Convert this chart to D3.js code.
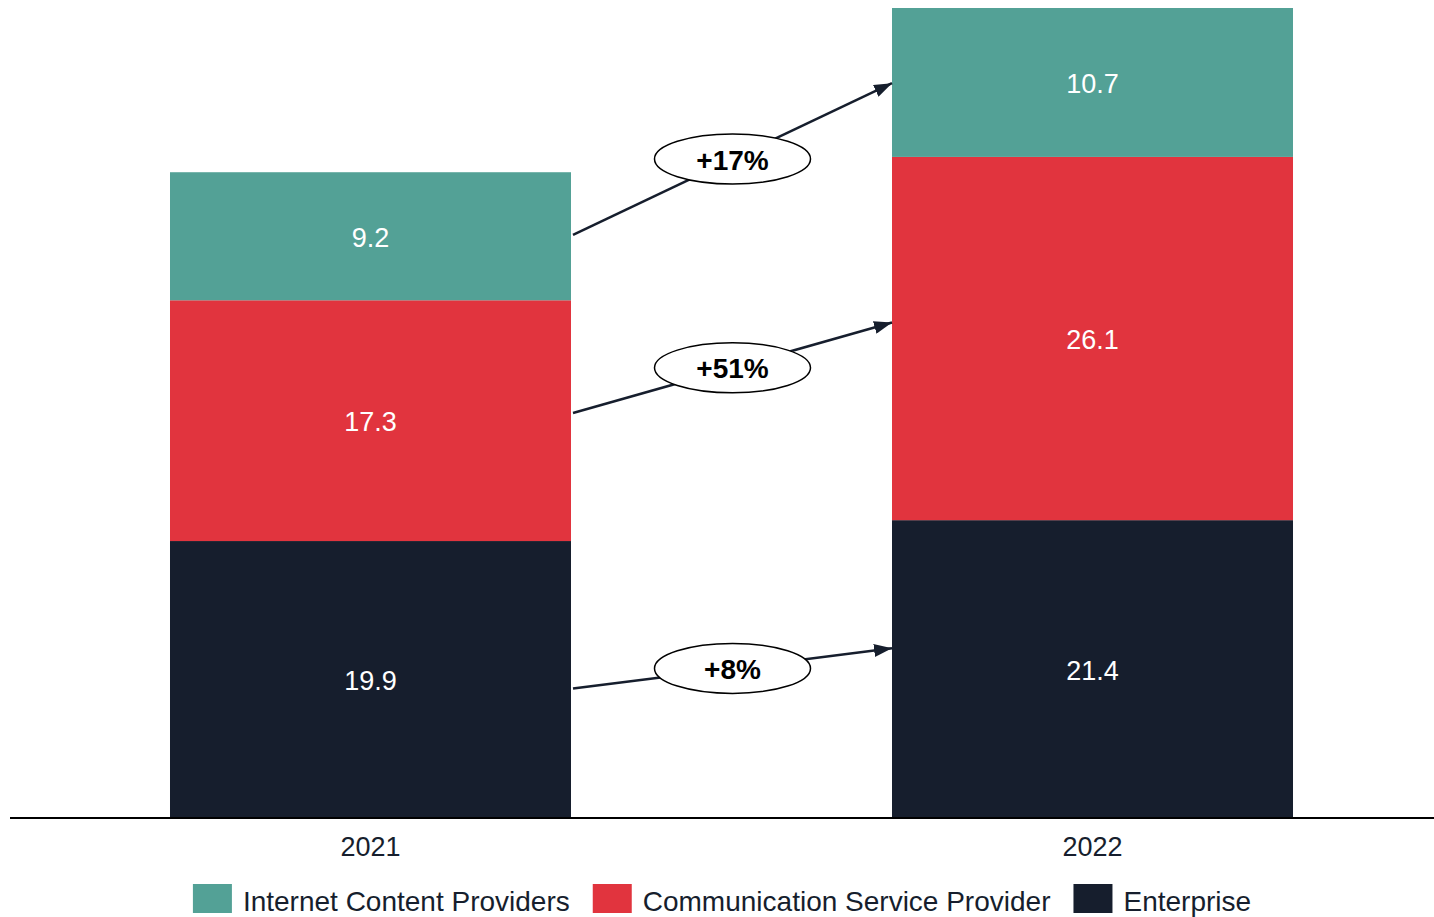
<!DOCTYPE html>
<html>
<head>
<meta charset="utf-8">
<script src="https://cdn.jsdelivr.net/npm/d3@7"></script>
<style>
  body { margin: 0; background: #fff; }
  svg { display: block; font-family: Arial, "Liberation Sans", sans-serif; }
</style>
</head>
<body>
<div id="chart"></div>
<script>
// data
const years = ['2021', '2022'];
const segments = ['Internet Content Providers', 'Communication Service Provider', 'Enterprise'];
const enterprise = [19.9, 21.4];
const csp = [17.3, 26.1];
const icp = [9.2, 10.7];
const segColors = ['#53a196', '#e1343e', '#161e2d'];

// growth arrows (value where arrow starts on 2021 bar, value where it ends on 2022 bar)
const growthLabels = ['+17%', '+51%', '+8%'];
const arrowFrom = [41.9, 29.1, 9.3];
const arrowTo = [52.8, 35.6, 12.2];

const width = 1434, height = 917;
const baseY = 818;

const svg = d3.select('#chart').append('svg')
  .attr('width', width)
  .attr('height', height);

// scales
const x = d3.scaleBand()
  .domain(years)
  .range([10, 1453])
  .paddingInner(0.4446)
  .paddingOuter(0.2216);

const y = d3.scaleLinear()
  .domain([0, 58.2])
  .range([baseY, 8]);

const color = d3.scaleOrdinal().domain(segments).range(segColors);

// stack rows
const rows = years.map((yr, i) => ({
  year: yr,
  'Enterprise': enterprise[i],
  'Communication Service Provider': csp[i],
  'Internet Content Providers': icp[i]
}));
const stack = d3.stack().keys(['Enterprise', 'Communication Service Provider', 'Internet Content Providers']);
const series = stack(rows);

const bars = svg.append('g').attr('id', 'bars');
series.forEach(s => {
  const g = bars.append('g').attr('fill', color(s.key));
  g.selectAll('rect')
    .data(s)
    .join('rect')
    .attr('x', d => x(d.data.year))
    .attr('width', x.bandwidth())
    .attr('y', d => y(d[1]))
    .attr('height', d => y(d[0]) - y(d[1]));
  g.selectAll('text')
    .data(s)
    .join('text')
    .attr('x', d => x(d.data.year) + x.bandwidth() / 2)
    .attr('y', d => (y(d[0]) + y(d[1])) / 2)
    .attr('dy', '0.4em')
    .attr('text-anchor', 'middle')
    .attr('fill', '#fff')
    .style('font-size', '27px')
    .text(d => (d[1] - d[0]).toFixed(1));
});

// baseline axis
const xAxis = svg.append('g').attr('transform', `translate(0,${baseY})`);
xAxis.append('line')
  .attr('x1', 10).attr('x2', width)
  .attr('y1', 0).attr('y2', 0)
  .attr('stroke', '#000')
  .attr('stroke-width', 2);
xAxis.selectAll('text')
  .data(years)
  .join('text')
  .attr('x', d => x(d) + x.bandwidth() / 2)
  .attr('y', 38)
  .attr('text-anchor', 'middle')
  .attr('fill', '#161e2d')
  .style('font-size', '27px')
  .text(d => d);

// arrow marker
svg.append('defs').append('marker')
  .attr('id', 'arrowHead')
  .attr('viewBox', '0 0 10 10')
  .attr('preserveAspectRatio', 'none')
  .attr('refX', 10).attr('refY', 5)
  .attr('markerUnits', 'userSpaceOnUse')
  .attr('orient', 'auto')
  .attr('markerWidth', 18).attr('markerHeight', 13)
  .append('path')
  .attr('d', 'M0,0 L10,5 L0,10 Z')
  .attr('fill', '#161e2d');

const x0 = x('2021') + x.bandwidth() + 2;
const x1 = x('2022');
const arrows = svg.append('g').attr('id', 'arrows');
growthLabels.forEach((lbl, i) => {
  const ya = y(arrowFrom[i]), yb = y(arrowTo[i]);
  arrows.append('line')
    .attr('x1', x0).attr('y1', ya)
    .attr('x2', x1).attr('y2', yb)
    .attr('stroke', '#161e2d')
    .attr('stroke-width', 2.5)
    .attr('marker-end', 'url(#arrowHead)');
  const cx = (x0 + x1) / 2, cy = (ya + yb) / 2;
  arrows.append('ellipse')
    .attr('cx', cx).attr('cy', cy)
    .attr('rx', 78).attr('ry', 25)
    .attr('fill', '#fff')
    .attr('stroke', '#000')
    .attr('stroke-width', 1.5);
  arrows.append('text')
    .attr('x', cx).attr('y', cy)
    .attr('dy', '0.38em')
    .attr('text-anchor', 'middle')
    .style('font-size', '28px')
    .style('font-weight', 'bold')
    .attr('fill', '#000')
    .text(lbl);
});

// legend
const legend = svg.append('g').attr('id', 'legend');
let lx = 0;
segments.forEach(seg => {
  const item = legend.append('g').attr('transform', `translate(${lx},0)`);
  item.append('rect')
    .attr('x', 0).attr('y', 0)
    .attr('width', 39).attr('height', 29)
    .attr('fill', color(seg));
  const t = item.append('text')
    .attr('x', 50).attr('y', 16)
    .attr('dy', '0.38em')
    .attr('fill', '#161e2d')
    .style('font-size', '28px')
    .text(seg);
  lx += 50 + t.node().getComputedTextLength() + 23;
});
const legendW = lx - 23;
legend.attr('transform', `translate(${(10 + width) / 2 - legendW / 2},884)`);
</script>
</body>
</html>
